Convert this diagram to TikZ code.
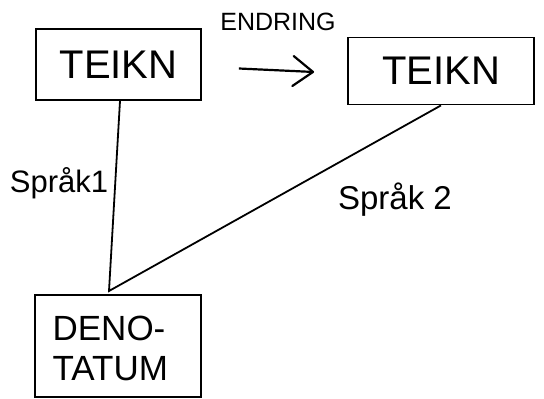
\documentclass[tikz,border=0pt]{standalone}
\usepackage{fontspec}
\setmainfont{Liberation Sans}
\usetikzlibrary{arrows.meta,calc}
\tikzset{
  box/.style={draw, line width=1.8pt, inner sep=0pt},
  link/.style={line width=1.8pt},
  big/.style={font=\fontsize{40}{42}\selectfont},
  lbl/.style={font=\fontsize{31}{34}\selectfont},
}
\begin{document}
\begin{tikzpicture}[x=1pt,y=-1pt]
\useasboundingbox (0,0) rectangle (544,399);
% sign boxes
\node[box, minimum width=165pt, minimum height=71pt] (t1) at (118.5,64.5) {};
\node[big] at (t1.center) {TEIKN};
\node[box, minimum width=186pt, minimum height=67pt] (t2) at (441,71) {};
\node[big] at (t2.center) {TEIKN};
% denotatum
\node[box, minimum width=166pt, minimum height=102pt] (d) at (118,346) {};
\node[align=left, anchor=west, font=\fontsize{35}{40}\selectfont] at ($(d.west)+(15,2)$) {DENO-\\TATUM};
% change arrow
\draw[line width=2.2pt, -{Straight Barb[length=20pt,width=30pt,round]}]
  ($(t1.east)+(37,4)$) -- ($(t2.west)+(-33,1)$);
\node[font=\fontsize{25}{28}\selectfont] (e) at (278,22) {ENDRING};
% language links
\coordinate (apex) at (109,291);
\draw[link] ($(t1.south)+(1.5,0)$) -- (apex) -- (t2.south);
\node[lbl] (s1) at (59,183) {Språk1};
\node[lbl, font=\fontsize{33}{36}\selectfont] (s2) at (395,200) {Språk 2};
\end{tikzpicture}
\end{document}
